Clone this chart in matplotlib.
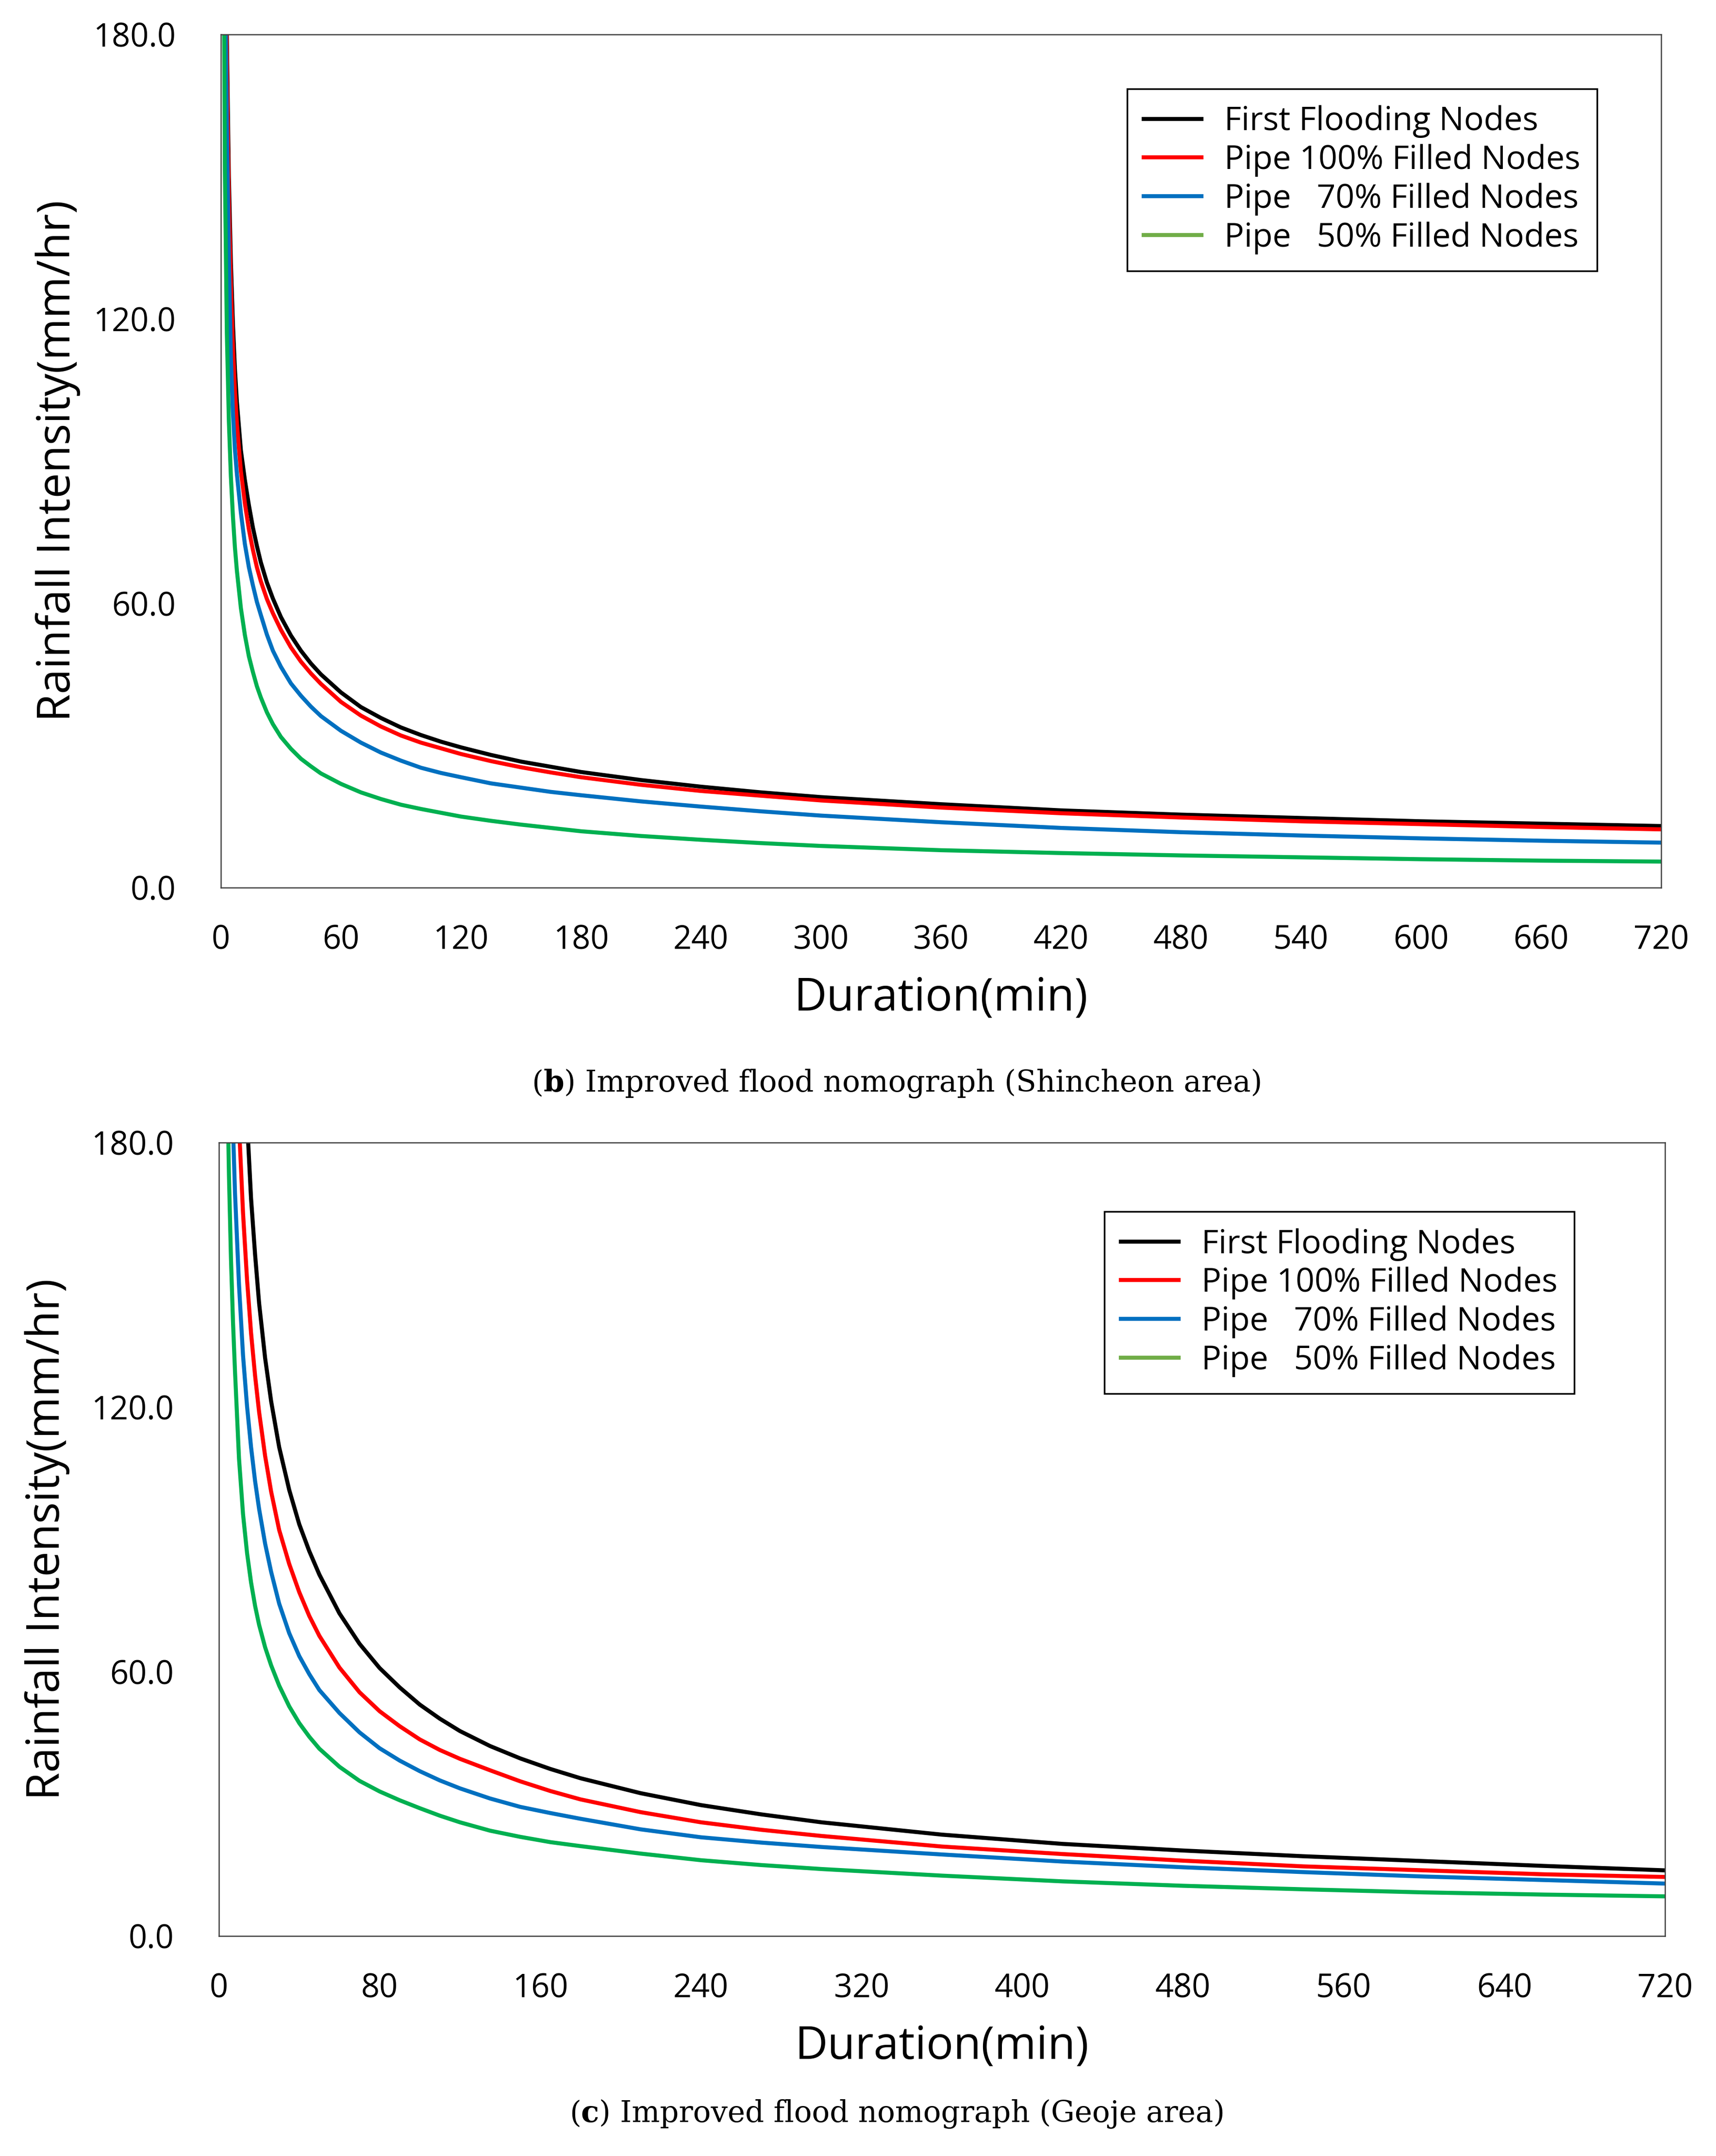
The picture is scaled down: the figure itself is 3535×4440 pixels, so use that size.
import matplotlib
matplotlib.use("Agg")
import matplotlib.pyplot as plt
from matplotlib.lines import Line2D
from matplotlib.ticker import FormatStrFormatter

# durations (min) shared by every curve of a panel
duration = [1, 2, 3, 4, 5, 6, 7, 8, 10, 12, 14, 16, 18, 20, 23, 26, 30, 35, 40, 45, 50,
            60, 70, 80, 90, 100, 110, 120, 135, 150, 165, 180, 210, 240, 270, 300,
            360, 420, 480, 540, 600, 660, 720]

# (b) Shincheon area, rainfall intensity (mm/hr)
shin_first = [300, 212, 179, 150, 131.9, 119.2, 109.6, 102.5, 92.3, 86.0, 80.7, 76.0, 72.1, 68.6,
              64.4, 61.0, 57.1, 53.2, 50.0, 47.3, 45.0, 41.2, 38.1, 35.8, 33.8, 32.2, 30.8, 29.6,
              28.0, 26.6, 25.5, 24.4, 22.7, 21.3, 20.1, 19.1, 17.6, 16.3, 15.4, 14.7, 14.0, 13.5, 13.0]
shin_100 = [290, 205, 173.2, 145, 127.0, 114.3, 105.1, 97.9, 87.9, 81.1, 75.6, 71.3, 67.6, 64.6,
            60.9, 57.9, 54.4, 50.7, 47.7, 45.2, 43.0, 39.2, 36.3, 34.0, 32.1, 30.6, 29.4, 28.2,
            26.7, 25.4, 24.3, 23.3, 21.7, 20.4, 19.4, 18.4, 16.9, 15.7, 14.8, 14.0, 13.4, 12.8, 12.3]
shin_70 = [275, 196.6, 160.5, 132.5, 111.8, 100.4, 92.6, 87.3, 79.1, 72.5, 67.6, 63.8, 60.3, 57.5,
           53.4, 50.0, 46.6, 43.1, 40.5, 38.2, 36.2, 33.1, 30.6, 28.5, 26.8, 25.3, 24.2, 23.3,
           22.0, 21.1, 20.2, 19.5, 18.2, 17.1, 16.1, 15.2, 13.8, 12.6, 11.7, 11.0, 10.4, 9.9, 9.5]
shin_50 = [235, 151.7, 116.9, 98.4, 86.8, 78.5, 71.9, 66.9, 59.0, 53.3, 48.8, 45.5, 42.5, 40.1,
           37.0, 34.5, 31.8, 29.3, 27.2, 25.6, 24.1, 21.9, 20.1, 18.7, 17.5, 16.6, 15.8, 15.0,
           14.1, 13.3, 12.6, 11.9, 10.9, 10.1, 9.4, 8.8, 7.9, 7.3, 6.8, 6.4, 6.0, 5.7, 5.5]

# (c) Geoje area
geo_first = [975, 630, 488, 407, 354, 315, 286, 263, 229, 204, 185, 167.3, 154.6, 143.6,
             131.1, 121.3, 110.9, 101.2, 93.4, 87.3, 82.0, 73.2, 66.3, 60.8, 56.4, 52.5, 49.3, 46.5,
             43.1, 40.3, 37.9, 35.8, 32.4, 29.7, 27.6, 25.8, 23.0, 20.9, 19.4, 18.1, 17.0, 15.9, 14.9]
geo_100 = [785, 507, 393, 328, 285, 254, 230, 212, 184, 164, 148.9, 136.8, 127.1, 118.9,
           108.9, 100.8, 92.1, 84.4, 78.0, 72.6, 68.1, 60.9, 55.3, 51.0, 47.6, 44.6, 42.2, 40.2,
           37.6, 35.1, 32.9, 31.0, 28.1, 25.8, 24.1, 22.7, 20.3, 18.6, 17.1, 15.8, 14.9, 14.0, 13.4]
geo_70 = [625, 404, 313, 261, 227, 202, 183.4, 168.6, 147.7, 131.7, 120.2, 110.9, 103.2, 96.9,
          89.0, 82.6, 75.4, 68.7, 63.5, 59.4, 55.8, 50.6, 46.2, 42.6, 39.8, 37.4, 35.3, 33.5,
          31.2, 29.3, 27.9, 26.6, 24.2, 22.4, 21.2, 20.2, 18.5, 16.9, 15.6, 14.5, 13.5, 12.7, 11.9]
geo_50 = [475, 306.8, 237.7, 198.3, 172.4, 153.6, 139.4, 128.1, 108.3, 95.7, 86.9, 80.2, 74.9, 70.6,
          65.5, 61.4, 56.8, 52.1, 48.3, 45.2, 42.5, 38.4, 35.2, 32.8, 30.8, 29.0, 27.3, 25.8,
          23.9, 22.5, 21.3, 20.4, 18.7, 17.2, 16.1, 15.2, 13.7, 12.4, 11.4, 10.6, 9.9, 9.4, 9.0]

labels = ["First Flooding Nodes", "Pipe 100% Filled Nodes", "Pipe   70% Filled Nodes", "Pipe   50% Filled Nodes"]
line_colors = ["#000000", "#FF0000", "#0070C0", "#00B050"]
legend_colors = ["#000000", "#FF0000", "#0070C0", "#70AD47"]

y_ticks = [0, 60, 120, 180]
x_ticks_b = list(range(0, 721, 60))
x_ticks_c = list(range(0, 721, 80))

SANS = ["Open Sans", "DejaVu Sans"]
SERIF = ["DejaVu Serif"]
W, H = 3535, 4440

fig = plt.figure(figsize=(W / 100, H / 100), dpi=100)
fig.patch.set_facecolor("white")


def draw_panel(rect, series, xticks, ylab_x, xlab_y, leg_anchor):
    ax = fig.add_axes(rect)
    for vals, c in zip(series, line_colors):
        ax.plot(duration, vals, color=c, lw=6.0, solid_joinstyle="round")
    ax.set_xlim(0, 720)
    ax.set_ylim(0, 180)
    ax.set_xticks(xticks)
    ax.set_yticks(y_ticks)
    ax.yaxis.set_major_formatter(FormatStrFormatter("%.1f"))
    ax.tick_params(axis="y", length=0, pad=67, labelsize=48)
    ax.tick_params(axis="x", length=0, pad=54, labelsize=48)
    for lab in ax.get_xticklabels() + ax.get_yticklabels():
        lab.set_family(SANS)
    for sp in ax.spines.values():
        sp.set_color("#404040")
        sp.set_linewidth(1.8)

    ax.set_xlabel("Duration(min)", family=SANS, fontsize=67)
    ax.xaxis.label.set_va("center")
    ax.xaxis.set_label_coords(0.5, xlab_y)
    ax.set_ylabel("Rainfall Intensity(mm/hr)", family=SANS, fontsize=67)
    ax.yaxis.label.set_va("center")
    ax.yaxis.set_label_coords(ylab_x, 0.5)

    handles = [Line2D([], [], color=c, lw=6.0) for c in legend_colors]
    leg = ax.legend(handles, labels, loc="upper right", bbox_to_anchor=leg_anchor,
                    prop={"family": SANS, "size": 49}, frameon=True, fancybox=False,
                    framealpha=1, edgecolor="black", borderaxespad=0,
                    handlelength=1.75, handletextpad=0.7, borderpad=0.5,
                    labelspacing=0.18)
    leg.get_frame().set_linewidth(2.5)
    return ax


draw_panel([455 / W, 1 - 1828 / H, 2967 / W, 1757 / H],
           [shin_first, shin_100, shin_70, shin_50], x_ticks_b,
           -0.1132, -0.1303, (0.9555, 0.9363))
draw_panel([451 / W, 1 - 3987 / H, 2979 / W, 1634 / H],
           [geo_first, geo_100, geo_70, geo_50], x_ticks_c,
           -0.1188, -0.1401, (0.9372, 0.9131))


def caption(xc, yc, letter, rest):
    renderer = fig.canvas.get_renderer()
    parts = [("(", "normal"), (letter, "bold"), (") " + rest, "normal")]
    texts = [fig.text(0, yc, s, weight=w, family=SERIF, fontsize=44, va="center", ha="left")
             for s, w in parts]
    widths = [t.get_window_extent(renderer).width for t in texts]
    x = xc * W - sum(widths) / 2
    for t, w in zip(texts, widths):
        t.set_x(x / W)
        x += w


caption(1848 / W, 1 - 2231 / H, "b", "Improved flood nomograph (Shincheon area)")
caption(1848 / W, 1 - 4353 / H, "c", "Improved flood nomograph (Geoje area)")

fig.savefig("out.png", dpi=100, facecolor="white")
